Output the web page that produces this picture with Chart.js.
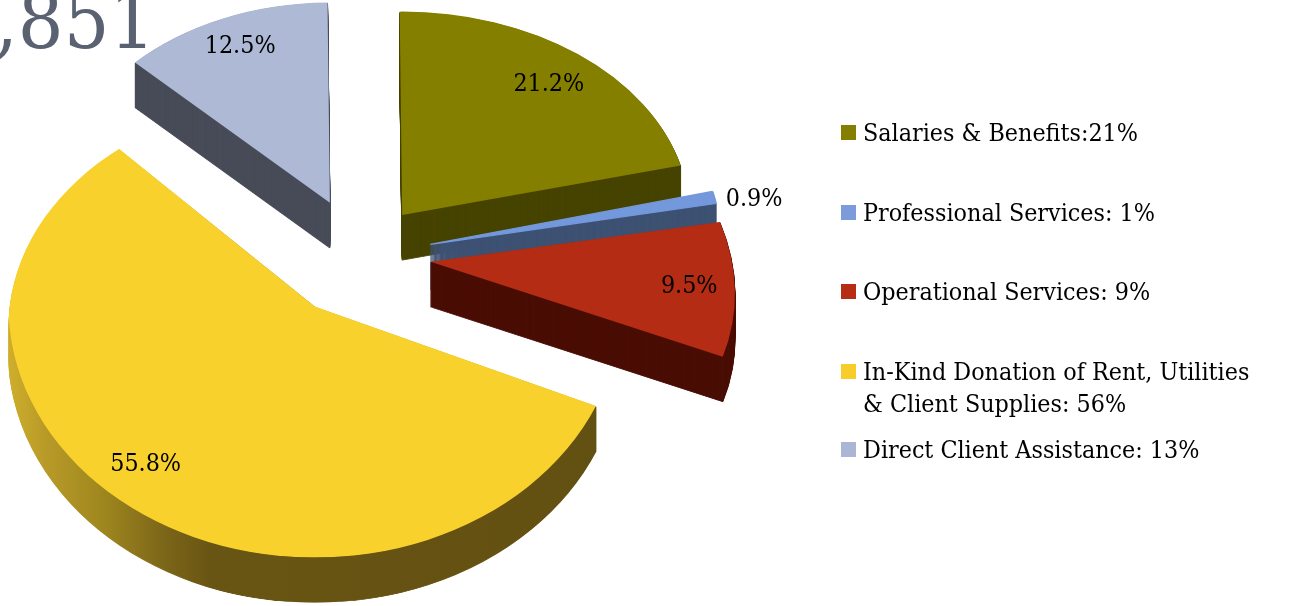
<!DOCTYPE html>
<html>
<head>
<meta charset="utf-8">
<title>Expenses</title>
<script src="https://cdn.jsdelivr.net/npm/chart.js@4"></script>
<style>
    html, body { margin: 0; padding: 0; background: #fff; overflow: hidden; }
    #box { width: 1297px; height: 606px; position: relative; }
</style>
</head>
<body>
<div id="box"><canvas id="myChart"></canvas></div>
<script>
// values
const categories = ['Salaries & Benefits', 'Professional Services', 'Operational Services', 'In-Kind Donation', 'Direct Client Assistance'];
const percentages = [21.2, 0.9, 9.5, 55.8, 12.5];
const dataLabels = ['21.2%', '0.9%', '9.5%', '55.8%', '12.5%'];
const legendLines = [
    ['Salaries & Benefits:21%'],
    ['Professional Services: 1%'],
    ['Operational Services: 9%'],
    ['In-Kind Donation of Rent, Utilities', '& Client Supplies: 56%'],
    ['Direct Client Assistance: 13%']
];
const titleFragment = ',851';

// styling
const topColors = ['#857f00', '#7398dc', '#b52c14', '#f9d12d', '#aeb9d6'];
const swatchColors = ['#857f00', '#7b9bdb', '#b72c15', '#f7cd2c', '#aab6d4'];
const wallColors = ['#474400', '#3e5273', '#4a0e05', null, '#484c58'];
const goldStops = [[0, '#cfae2c'], [0.06, '#b89a28'], [0.15, '#a0881f'], [0.26, '#7a6418'], [0.33, '#695513'], [1, '#625012']];
const drawOrder = [4, 0, 1, 2, 3];

// fake 3D: explode distance and the tilt of each slice (perspective makes the front ones bigger)
const explode = [69, 72, 71, 81, 77];
const scaleX = [1.125, 1.14, 1.183, 1.2, 1.07];
const scaleY = [0.797, 0.85, 0.904, 0.984, 0.785];
const shearY = [0, 0, 0.0142, 0, 0];
const shearX = [0, 0, 0.148, 0, 0];
// the far side of the big slice is flatter than its near side
const frontBias = [0, 0, 0, 0.08, 0];
const tilt = 0.75;
const depth = 45;
const labelSpots = [[0.835, 0.81], [1.14, 0.95], [0.85, 0.85], [0.99, 0.76], [0.84, 0.85]];

const serif = '"DejaVu Serif Condensed", "DejaVu Serif", serif';
const textFont = '24.8px ' + serif;
const legendSwatchX = 841;
const legendTextX = 863;
const legendSwatch = 15;
const legendBaselines = [141, 221, 300, 380, 458];
const legendLineHeight = 32;

function sliceMatrix(arc, i) {
    const mid = (arc.startAngle + arc.endAngle) / 2;
    return new DOMMatrix()
        .translate(arc.x + Math.cos(mid) * explode[i], arc.y + Math.sin(mid) * explode[i] * tilt)
        .multiply(new DOMMatrix([scaleX[i], shearY[i], shearX[i], scaleY[i], 0, 0]))
        .translate(-arc.x, -arc.y);
}

function drawSlice(ctx, arc, i, m, lift) {
    ctx.save();
    ctx.translate(0, lift);
    ctx.transform(m.a, m.b, m.c, m.d, m.e, m.f);
    if (frontBias[i]) {
        const r = arc.outerRadius;
        ctx.beginPath();
        ctx.ellipse(arc.x, arc.y + frontBias[i] * r, r, (1 - frontBias[i]) * r, 0, 0, Math.PI * 2);
        ctx.clip();
    }
    arc.draw(ctx);
    ctx.restore();
}

function drawWall(ctx, arc, i, m) {
    let fill = wallColors[i];
    if (!fill) {
        fill = ctx.createLinearGradient(arc.x - arc.outerRadius, 0, arc.x + arc.outerRadius, 0);
        goldStops.forEach(s => fill.addColorStop(s[0], s[1]));
    }
    const topOptions = arc.options;
    arc.options = Object.assign({}, topOptions, { backgroundColor: fill, borderColor: fill, borderWidth: 1 });
    for (let d = depth; d > 0; d--) {
        drawSlice(ctx, arc, i, m, d);
    }
    arc.options = topOptions;
}

const slicesPlugin = {
    id: 'slices',
    beforeDatasetsDraw(chart) {
        const ctx = chart.ctx;
        const arcs = chart.getDatasetMeta(0).data;

        ctx.save();
        ctx.fillStyle = '#5a6272';
        ctx.font = '80px ' + serif;
        ctx.textBaseline = 'alphabetic';
        ctx.fillText(titleFragment, -5, 48);
        ctx.restore();

        drawOrder.forEach(i => {
            const m = sliceMatrix(arcs[i], i);
            drawWall(ctx, arcs[i], i, m);
            drawSlice(ctx, arcs[i], i, m, 0);
        });

        // percentages
        ctx.save();
        ctx.fillStyle = '#000';
        ctx.font = textFont;
        ctx.textAlign = 'center';
        ctx.textBaseline = 'middle';
        arcs.forEach((arc, i) => {
            const mid = (arc.startAngle + arc.endAngle) / 2;
            const p = sliceMatrix(arc, i).transformPoint({
                x: arc.x + Math.cos(mid) * arc.outerRadius * labelSpots[i][0],
                y: arc.y + Math.sin(mid) * arc.outerRadius * labelSpots[i][1]
            });
            ctx.fillText(dataLabels[i], p.x, p.y);
        });
        ctx.restore();

        // legend
        ctx.save();
        ctx.font = textFont;
        legendLines.forEach((lines, i) => {
            ctx.fillStyle = swatchColors[i];
            ctx.fillRect(legendSwatchX, legendBaselines[i] - legendSwatch - 1, legendSwatch, legendSwatch);
            ctx.fillStyle = '#000';
            lines.forEach((line, j) => {
                ctx.fillText(line, legendTextX, legendBaselines[i] + j * legendLineHeight);
            });
        });
        ctx.restore();
        return false;
    }
};

const ctx = document.getElementById('myChart');
const myChart = new Chart(ctx, {
    type: 'pie',
    data: {
        labels: categories,
        datasets: [{
            data: percentages,
            backgroundColor: topColors,
            borderColor: topColors,
            borderWidth: [0, 1.5, 0, 0, 0]
        }]
    },
    options: {
        responsive: true,
        maintainAspectRatio: false,
        animation: false,
        rotation: -0.5,
        layout: { padding: { right: 577, bottom: 94 } },
        plugins: {
            legend: { display: false },
            tooltip: { enabled: false }
        }
    },
    plugins: [slicesPlugin]
});
</script>
</body>
</html>
